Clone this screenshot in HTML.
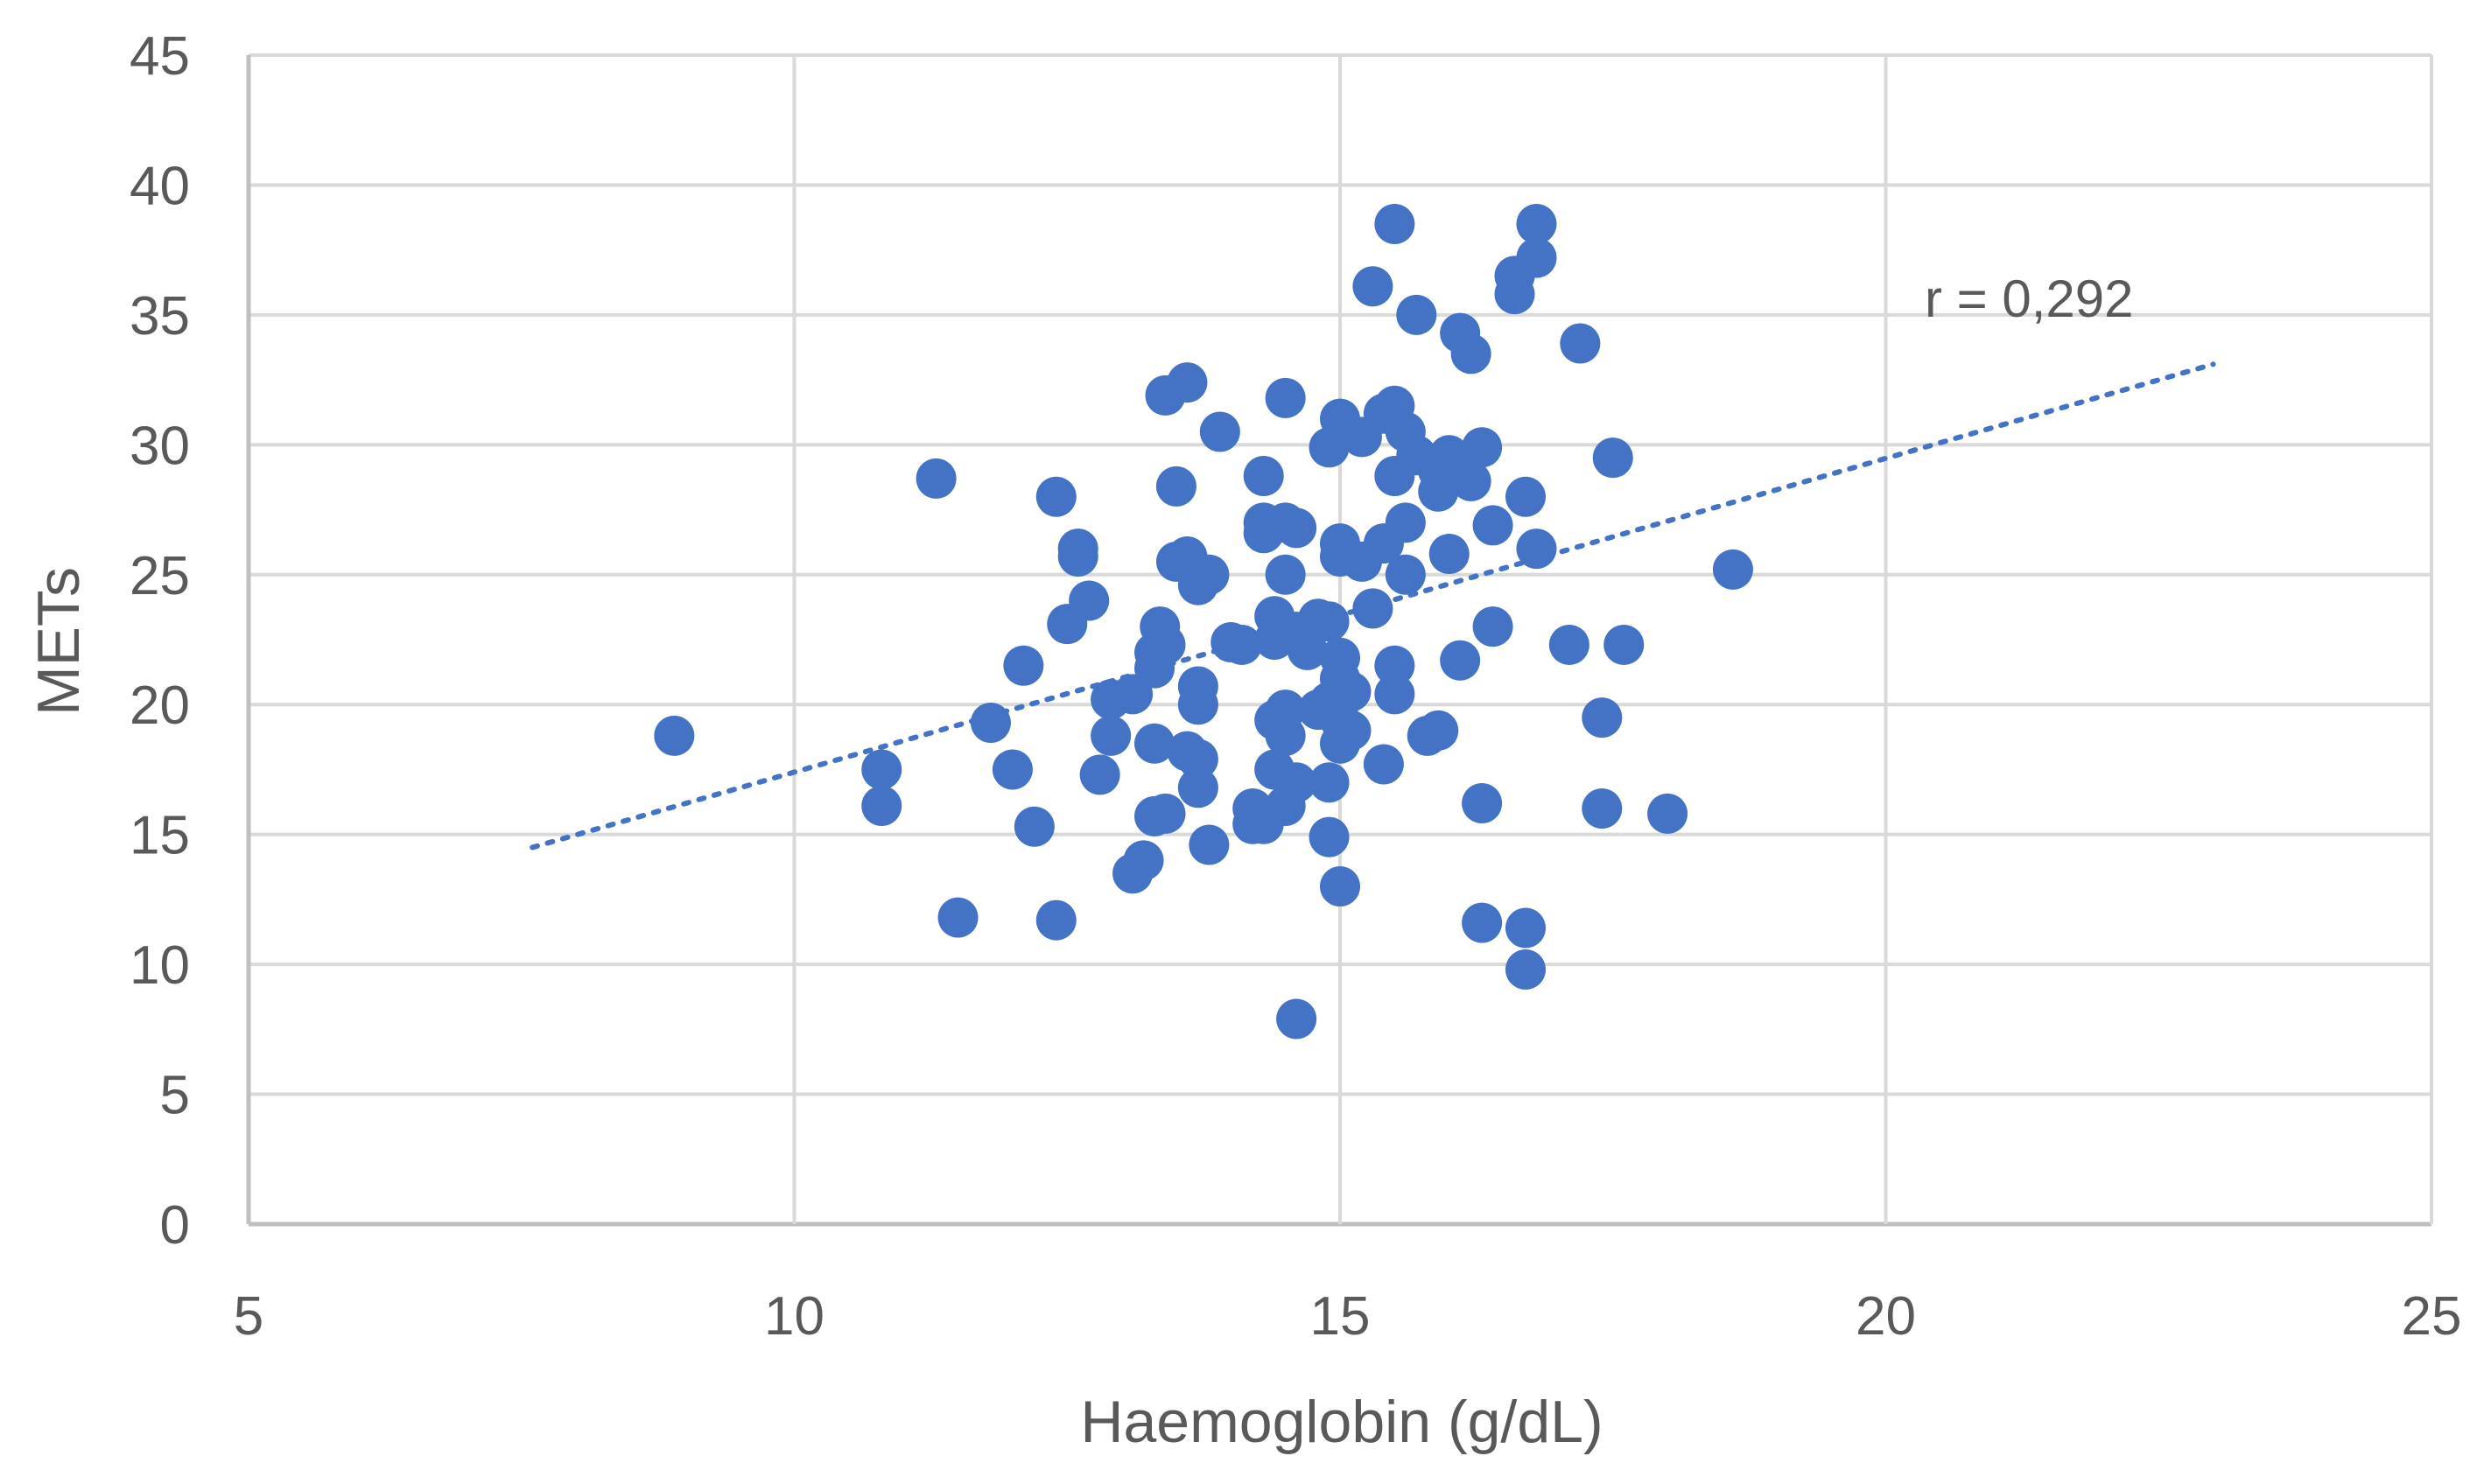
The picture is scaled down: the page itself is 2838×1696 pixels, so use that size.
<!DOCTYPE html>
<html><head><meta charset="utf-8"><style>
html,body{margin:0;padding:0;background:#fff;}
svg{display:block;font-family:"Liberation Sans",sans-serif;}
</style></head><body>
<svg id="chart" width="2838" height="1696" viewBox="0 0 2838 1696" xmlns="http://www.w3.org/2000/svg">
<rect width="2838" height="1696" fill="#fff"/>
<g id="grid"></g>
<g id="ticks"></g>
<g id="trend"></g>
<g id="points"></g>
<text x="0" y="0" transform="translate(90,733) rotate(-90)" text-anchor="middle" font-size="68" fill="#595959">METs</text>
<text x="1533" y="1648" text-anchor="middle" font-size="68" fill="#595959">Haemoglobin (g/dL)</text>
<text x="2199" y="362" font-size="60" fill="#595959">r = 0,292</text>
</svg>
<script>
const xTicks=[5,10,15,20,25];
const yTicks=[0,5,10,15,20,25,30,35,40,45];
const trendX=[7.6,23];
const trendY=[14.5,33.1];
const hb=[8.9,10.8,10.8,11.3,11.5,11.8,12.0,12.1,12.2,12.4,12.4,12.5,12.6,12.6,12.7,12.8,12.9,12.9,13.1,13.1,13.2,13.3,13.3,13.3,13.3,13.35,13.4,13.4,13.4,13.5,13.5,13.6,13.6,13.6,13.7,13.7,13.7,13.7,13.7,13.8,13.8,13.9,14.0,14.1,14.2,14.2,14.3,14.3,14.3,14.3,14.4,14.4,14.4,14.4,14.5,14.5,14.5,14.5,14.5,14.5,14.6,14.6,14.6,14.6,14.7,14.8,14.8,14.9,14.9,14.9,14.9,14.9,15.0,15.0,15.0,15.0,15.0,15.0,15.0,15.0,15.1,15.1,15.2,15.2,15.3,15.3,15.4,15.4,15.4,15.5,15.5,15.5,15.5,15.5,15.6,15.6,15.6,15.7,15.7,15.8,15.9,15.9,15.9,16.0,16.0,16.1,16.1,16.2,16.2,16.3,16.3,16.3,16.4,16.4,16.6,16.6,16.7,16.7,16.7,16.8,16.8,16.8,17.2,17.1,17.4,17.4,17.5,17.6,18.0,18.6];
const mets=[18.8,17.5,16.1,28.7,11.8,19.3,17.5,21.5,15.3,28.0,11.7,23.1,26.0,25.7,24.0,17.3,20.2,18.8,20.4,13.5,14.0,22.0,21.4,18.5,15.7,23.0,22.3,31.9,15.8,28.4,25.5,32.4,25.7,18.2,24.6,20.7,20.0,17.9,16.8,25.0,14.6,30.5,22.4,22.3,16.0,15.4,28.8,27.0,26.6,15.4,23.4,22.5,19.4,17.5,31.8,27.0,25.0,19.8,18.8,16.1,26.8,22.8,17.0,7.9,22.1,23.3,19.8,29.9,23.2,20.1,17.0,14.9,31.0,26.2,25.7,21.8,21.0,19.4,18.5,13.0,20.5,19.0,30.3,25.5,36.1,23.7,31.2,26.2,17.7,38.5,31.5,28.8,21.5,20.4,30.5,27.0,25.0,35.0,29.6,18.8,29.0,28.2,19.0,29.6,25.8,34.3,21.7,33.5,28.6,29.9,16.2,11.6,26.9,23.0,36.5,35.8,28.0,11.4,9.8,38.5,37.2,26.0,33.9,22.3,19.5,16.0,29.5,22.3,15.8,25.2];
const L=284,R=2778,T=63,B=1399;
const sx=v=>L+(v-5)/20*(R-L);
const sy=v=>B-v/45*(B-T);
const NS="http://www.w3.org/2000/svg";
function mk(tag,attrs,parent){const e=document.createElementNS(NS,tag);for(const k in attrs)e.setAttribute(k,attrs[k]);parent.appendChild(e);return e;}
const grid=document.getElementById('grid'),ticks=document.getElementById('ticks'),trend=document.getElementById('trend'),pts=document.getElementById('points');
yTicks.forEach(v=>{
 const ln=mk('line',{x1:L,x2:R,y1:sy(v),y2:sy(v),stroke:v===0?'#bfbfbf':'#d9d9d9','stroke-width':v===0?5:4},grid);
 
 
 const t=mk('text',{x:217,y:sy(v)+22,'text-anchor':'end','font-size':62,fill:'#595959'},ticks);
 t.textContent=v;
 
 
});
xTicks.forEach(v=>{
 const ln=mk('line',{x1:sx(v),x2:sx(v),y1:T,y2:B,stroke:v===5?'#bfbfbf':'#d9d9d9','stroke-width':v===5?5:4},grid);
 
 
 const t=mk('text',{x:sx(v),y:1525,'text-anchor':'middle','font-size':62,fill:'#595959'},ticks);
 t.textContent=v;
 
 
});
const tl=mk('line',{x1:sx(trendX[0]),y1:sy(trendY[0]),x2:sx(trendX[1]),y2:sy(trendY[1]),stroke:'#4472C4','stroke-width':6,'stroke-dasharray':'6 12','stroke-linecap':'round'},trend);


hb.forEach((x,i)=>{
 const c=mk('circle',{cx:sx(x),cy:sy(mets[i]),r:23,fill:'#4472C4'},pts);
 
 
});
</script>
</body></html>
